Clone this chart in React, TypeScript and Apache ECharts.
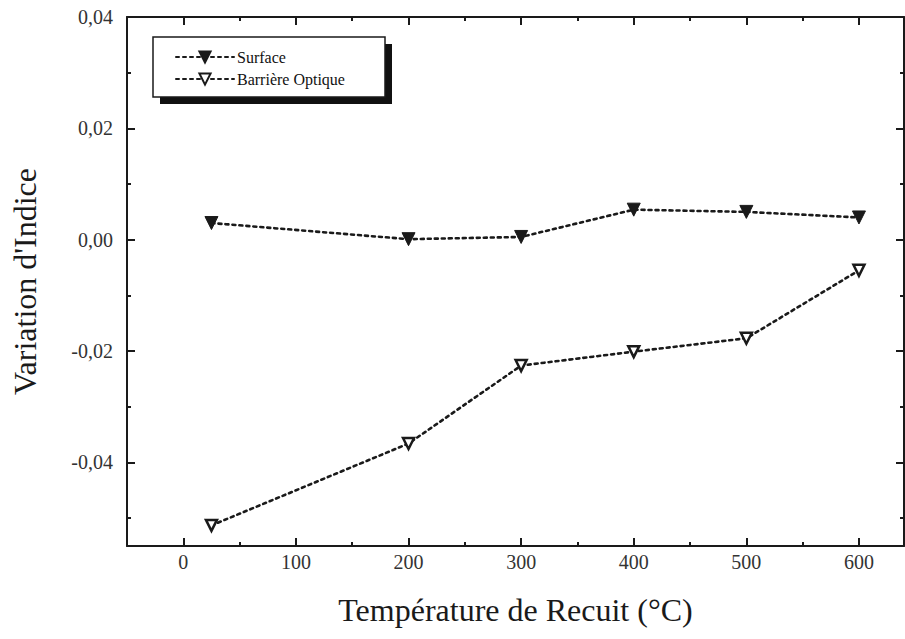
import React, { useEffect, useRef } from "react";
import * as echarts from "echarts";

const temperatures = [25, 200, 300, 400, 500, 600];
const surfaceValues = [0.003, 0.0001, 0.0005, 0.0054, 0.005, 0.004];
const barriereValues = [-0.0513, -0.0366, -0.0226, -0.0201, -0.0177, -0.0055];
const seriesNames = ["Surface", "Barrière Optique"];
const xTitle = "Température de Recuit (°C)";
const yTitle = "Variation d'Indice";

const FONT = "'Liberation Serif', 'Times New Roman', serif";
const INK = "#1a1a1a";

export default function App() {
  const ref = useRef<HTMLDivElement>(null);
  useEffect(() => {
    if (!ref.current) return;
    const chart = echarts.init(ref.current, undefined, { renderer: "svg" });
    const pairs = (vals: number[]) => temperatures.map((t, i) => [t, vals[i]]);
    const lineStyle = { color: INK, width: 2.6, type: [3, 4] as any, cap: "round" as const };
    const xBase = {
      type: "value" as const,
      min: -50,
      max: 640,
      minInterval: 100,
      maxInterval: 100,
      splitLine: { show: false },
      axisLine: { onZero: false, lineStyle: { color: INK, width: 2 } },
      axisTick: { inside: true, length: 8, lineStyle: { color: INK, width: 2 } },
      minorTick: { show: true, splitNumber: 2, length: 4, lineStyle: { color: INK, width: 2 } },
    };
    const yBase = {
      type: "value" as const,
      min: -0.055,
      max: 0.04,
      minInterval: 0.02,
      maxInterval: 0.02,
      splitLine: { show: false },
      axisLine: { onZero: false, lineStyle: { color: INK, width: 2 } },
      axisTick: { inside: true, length: 8, lineStyle: { color: INK, width: 2 } },
      minorTick: { show: true, splitNumber: 2, length: 4, lineStyle: { color: INK, width: 2 } },
    };
    chart.setOption({
      animation: false,
      backgroundColor: "#ffffff",
      grid: { left: 127, top: 17, width: 777, height: 529, containLabel: false },
      xAxis: [
        {
          ...xBase,
          position: "bottom",
          name: xTitle,
          nameLocation: "middle",
          nameGap: 48,
          nameTextStyle: { fontFamily: FONT, fontSize: 32, color: INK },
          axisLabel: {
            showMinLabel: false,
            showMaxLabel: false,
            margin: 6,
            fontFamily: FONT,
            fontSize: 20,
            color: "#333",
            formatter: (v: number) => String(Math.round(v)),
          },
        },
        { ...xBase, position: "top", axisLabel: { show: false } },
      ],
      yAxis: [
        {
          ...yBase,
          position: "left",
          name: yTitle,
          nameLocation: "middle",
          nameGap: 86,
          nameTextStyle: { fontFamily: FONT, fontSize: 32, color: INK },
          axisLabel: {
            showMinLabel: false,
            margin: 14,
            fontFamily: FONT,
            fontSize: 20,
            color: "#333",
            formatter: (v: number) => v.toFixed(2).replace(".", ","),
          },
        },
        { ...yBase, position: "right", axisLabel: { show: false } },
      ],
      legend: {
        orient: "vertical",
        left: 175,
        top: 49,
        padding: 0,
        itemGap: 6,
        itemWidth: 58,
        itemHeight: 14,
        z: 20,
        data: seriesNames,
        textStyle: { fontFamily: FONT, fontSize: 16, color: "#111", padding: [0, 0, 0, -2] },
      },
      graphic: [
        {
          type: "rect",
          z: 5,
          shape: { x: 160, y: 44, width: 232, height: 60 },
          style: { fill: "#111" },
        },
        {
          type: "rect",
          z: 6,
          shape: { x: 153, y: 37, width: 232, height: 60 },
          style: { fill: "#fff", stroke: INK, lineWidth: 1.5 },
        },
      ],
      series: [
        {
          name: seriesNames[0],
          type: "line",
          data: pairs(surfaceValues),
          symbol: "triangle",
          symbolRotate: 180,
          symbolSize: 13,
          itemStyle: { color: INK, borderColor: INK, borderWidth: 1 },
          lineStyle,
        },
        {
          name: seriesNames[1],
          type: "line",
          data: pairs(barriereValues),
          symbol: "triangle",
          symbolRotate: 180,
          symbolSize: 11,
          itemStyle: { color: "#fff", borderColor: INK, borderWidth: 2.5 },
          lineStyle,
        },
      ],
    });
    return () => chart.dispose();
  }, []);
  return (
    <div
      ref={ref}
      style={{ position: "fixed", left: 0, top: 0, width: 905, height: 639, background: "#fff" }}
    />
  );
}
